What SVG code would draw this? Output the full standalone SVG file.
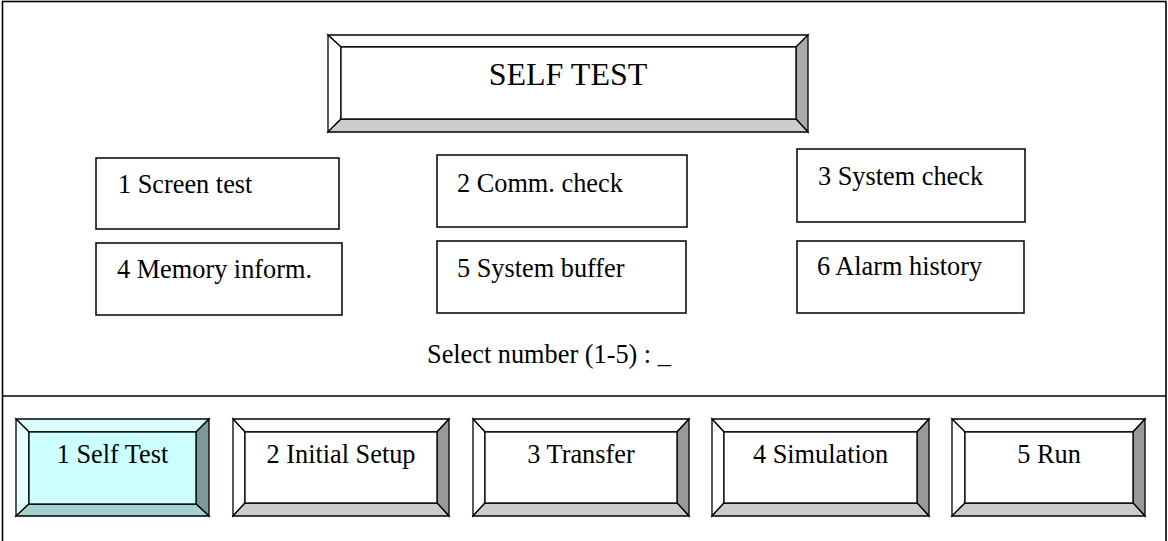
<svg xmlns="http://www.w3.org/2000/svg" width="1168" height="541" viewBox="0 0 1168 541">
<style>
.t{font-family:Liberation Serif,serif;font-size:26.3px;fill:#000}
.h{font-family:Liberation Serif,serif;font-size:32px;fill:#000}
.box{fill:#fff;stroke:#000;stroke-width:1.5}
.bv{stroke:#000;stroke-width:1.3;stroke-linejoin:miter}
.lt{fill:#fff}.rt{fill:#999}.bt{fill:#ccc}.face{fill:#fff}
.clt{fill:#e6ffff}.ctp{fill:#dcffff}.crt{fill:#7a9a99}.cbt{fill:#a4d2d1}.cface{fill:#ccffff}
.line{stroke:#000;stroke-width:1.6;fill:none}
</style>
<rect x="0" y="0" width="1168" height="541" fill="#fff"/>
<g id="frame">
<rect class="line" x="2.5" y="1.5" width="1163.5" height="560"/>
</g>
<g id="connectors">
<line class="line" x1="3" y1="396" x2="1166" y2="396"/>
</g>
<g id="title">
<polygon class="bv lt" points="328,35 808,35 796,47 341,47"/>
<polygon class="bv lt" points="328,35 341,47 341,119 328,132"/>
<polygon class="bv rt" points="808,35 808,132 796,119 796,47" style="fill:#aaa"/>
<polygon class="bv bt" points="328,132 341,119 796,119 808,132"/>
<rect class="bv face" x="341" y="47" width="455" height="72"/>
<text class="h" x="568" y="85" text-anchor="middle">SELF TEST</text>
</g>
<g id="opt1"><rect class="box" x="96" y="158" width="243" height="71"/><text class="t" x="118" y="193">1 Screen test</text></g>
<g id="opt2"><rect class="box" x="437" y="155" width="250" height="72"/><text class="t" x="457" y="192">2 Comm. check</text></g>
<g id="opt3"><rect class="box" x="797" y="149" width="228" height="73"/><text class="t" x="818" y="185">3 System check</text></g>
<g id="opt4"><rect class="box" x="96" y="243" width="246" height="72"/><text class="t" x="117" y="278">4 Memory inform.</text></g>
<g id="opt5"><rect class="box" x="437" y="241" width="249" height="72"/><text class="t" x="457" y="277">5 System buffer</text></g>
<g id="opt6"><rect class="box" x="797" y="241" width="227" height="72"/><text class="t" x="817" y="275">6 Alarm history</text></g>
<g id="prompt"><text class="t" x="427" y="363">Select number (1-5) : _</text></g>
<g id="btn1">
<polygon class="bv ctp" points="16,419 209,419 196,432 29,432"/>
<polygon class="bv clt" points="16,419 29,432 29,504 16,516"/>
<polygon class="bv crt" points="209,419 209,516 196,504 196,432"/>
<polygon class="bv cbt" points="16,516 29,504 196,504 209,516"/>
<rect class="bv cface" x="29" y="432" width="167" height="72"/>
<text class="t" x="112.5" y="463" text-anchor="middle">1 Self Test</text>
</g>
<g id="btn2">
<polygon class="bv lt" points="233,419 449,419 437,432 245,432"/>
<polygon class="bv lt" points="233,419 245,432 245,503 233,516"/>
<polygon class="bv rt" points="449,419 449,516 437,503 437,432"/>
<polygon class="bv bt" points="233,516 245,503 437,503 449,516"/>
<rect class="bv face" x="245" y="432" width="192" height="71"/>
<text class="t" x="341" y="463" text-anchor="middle">2 Initial Setup</text>
</g>
<g id="btn3">
<polygon class="bv lt" points="473,419 689,419 677,432 485,432"/>
<polygon class="bv lt" points="473,419 485,432 485,503 473,516"/>
<polygon class="bv rt" points="689,419 689,516 677,503 677,432"/>
<polygon class="bv bt" points="473,516 485,503 677,503 689,516"/>
<rect class="bv face" x="485" y="432" width="192" height="71"/>
<text class="t" x="581" y="463" text-anchor="middle">3 Transfer</text>
</g>
<g id="btn4">
<polygon class="bv lt" points="712,419 929,419 917,432 724,432"/>
<polygon class="bv lt" points="712,419 724,432 724,503 712,516"/>
<polygon class="bv rt" points="929,419 929,516 917,503 917,432"/>
<polygon class="bv bt" points="712,516 724,503 917,503 929,516"/>
<rect class="bv face" x="724" y="432" width="193" height="71"/>
<text class="t" x="820.5" y="463" text-anchor="middle">4 Simulation</text>
</g>
<g id="btn5">
<polygon class="bv lt" points="952,419 1145,419 1133,432 965,432"/>
<polygon class="bv lt" points="952,419 965,432 965,503 952,516"/>
<polygon class="bv rt" points="1145,419 1145,516 1133,503 1133,432"/>
<polygon class="bv bt" points="952,516 965,503 1133,503 1145,516"/>
<rect class="bv face" x="965" y="432" width="168" height="71"/>
<text class="t" x="1049" y="463" text-anchor="middle">5 Run</text>
</g>
</svg>
